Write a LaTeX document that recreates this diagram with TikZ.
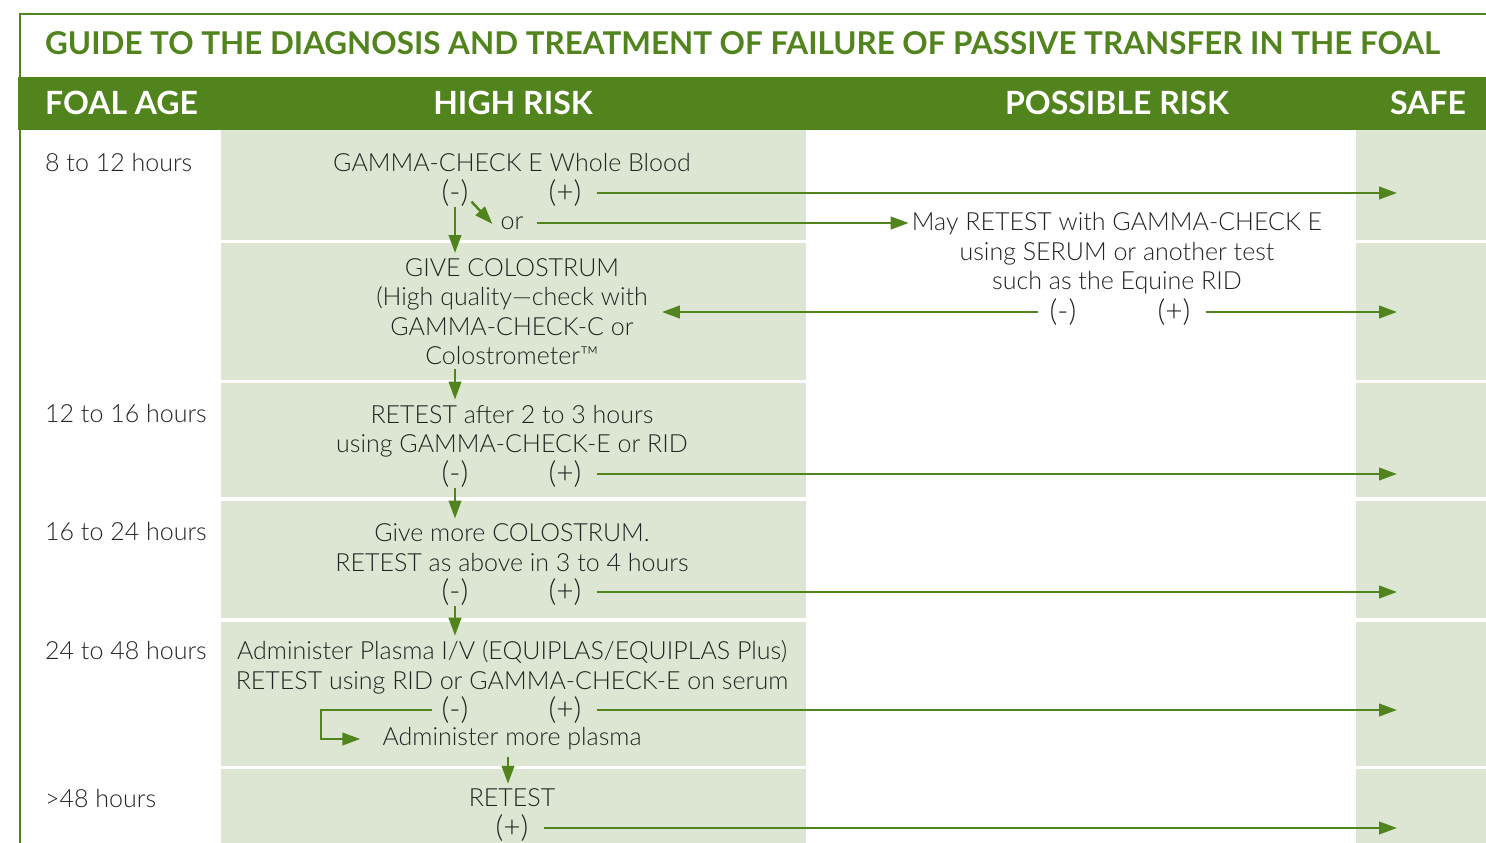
\documentclass[tikz,border=0pt]{standalone}
\usepackage{fontspec}
\setmainfont{Lato}[UprightFont=* Light,BoldFont=* Bold]
\usetikzlibrary{arrows.meta}
\definecolor{leaf}{RGB}{82,132,30}
\definecolor{pale}{RGB}{221,230,210}
\definecolor{ink}{RGB}{35,35,35}
\tikzstyle{every node}=[inner sep=0pt,text=ink,font=\fontsize{25}{29.5}\selectfont]
\tikzstyle{head}=[text=white,font=\fontsize{32}{34}\selectfont\bfseries]
\tikzstyle{age}=[anchor=west]
\tikzstyle{sign}=[font=\fontsize{30}{30}\selectfont]
\tikzstyle{arr}=[draw=leaf,line width=2.5pt,-{Triangle[length=18pt,width=12.5pt]}]
\tikzstyle{plusline}=[arr,shorten <=15pt]

\begin{document}
\begin{tikzpicture}[x=1pt,y=-1pt]
\useasboundingbox (0,0) rectangle (1486,843);
\draw[leaf,line width=2.5pt] (1486,14) -- (20,14) -- (20,843);
\fill[leaf] (18,77) rectangle (1486,130);
\foreach \t/\b in {130/239.5,243/380,383/497,500.5/617.5,621.5/765.5,769/843}{
  \fill[pale] (221,\t) rectangle (806,\b);
  \fill[pale] (1356,\t) rectangle (1486,\b);
}
\node[anchor=west,text=leaf,font=\fontsize{31.4}{33}\selectfont\bfseries] (title) at (45,43)
  {GUIDE TO THE DIAGNOSIS AND TREATMENT OF FAILURE OF PASSIVE TRANSFER IN THE FOAL};
\node[head,anchor=west] (foal) at (45,103) {FOAL AGE};
\node[head] (high) at (513,103) {HIGH RISK};
\node[head] (possible) at (1117,103) {POSSIBLE RISK};
\node[head] (safe) at (1428,103) {SAFE};
\coordinate (goal) at (1397,0);

\node[age] (a1) at (45,163) {8 to 12 hours};
\node[age] (a2) at (45,414) {12 to 16 hours};
\node[age] (a3) at (45,532) {16 to 24 hours};
\node[age] (a4) at (45,650) {24 to 48 hours};
\node[age] (a5) at (45,798) {>48 hours};

\node (test) at (512,163) {GAMMA-CHECK E Whole Blood};
\node[sign] (m1) at (455,193) {(-)};
\node[sign] (p1) at (565,193) {(+)};
\node (or) at (512,223) {or};
\node[align=center] (colostrum) at (512,311.5) {GIVE COLOSTRUM\\(High quality---check with\\GAMMA-CHECK-C or\\Colostrometer™};
\node[align=center] (retest1) at (512,431) {RETEST after 2 to 3 hours\\using GAMMA-CHECK-E or RID};
\node[sign] (m2) at (455,474) {(-)};
\node[sign] (p2) at (565,474) {(+)};
\node[align=center] (more) at (512,547.5) {Give more COLOSTRUM.\\RETEST as above in 3 to 4 hours};
\node[sign] (m3) at (455,592) {(-)};
\node[sign] (p3) at (565,592) {(+)};
\node[align=center] (plasma) at (512,667.5) {Administer Plasma I/V (EQUIPLAS/EQUIPLAS Plus)\\RETEST using RID or GAMMA-CHECK-E on serum};
\node[sign] (m4) at (455,710) {(-)};
\node[sign] (p4) at (565,710) {(+)};
\node (again) at (512,739) {Administer more plasma};
\node (retest2) at (512,798) {RETEST};
\node[sign] (p5) at (512,828) {(+)};

\node[align=center] (may) at (1117,253.5) {May RETEST with GAMMA-CHECK E\\using SERUM or another test\\such as the Equine RID};
\node[sign] (m6) at (1063,312) {(-)};
\node[sign] (p6) at (1174,312) {(+)};

\draw[plusline] (p1) -- (p1 -| goal);
\draw[plusline] (p2) -- (p2 -| goal);
\draw[plusline] (p3) -- (p3 -| goal);
\draw[plusline] (p4) -- (p4 -| goal);
\draw[plusline] (p5) -- (p5 -| goal);
\draw[plusline] (p6) -- (p6 -| goal);
\draw[arr] ([xshift=3pt,yshift=5pt]m1.south east) -- ([xshift=-8pt,yshift=-1pt]or.west);
\draw[arr,shorten <=13pt,shorten >=3pt] (or) -- (or -| may.west);
\draw[arr,shorten <=12pt,shorten >=14pt] (m6) -- (m6 -| colostrum.east);
\draw[arr,shorten >=5pt] (m1.south) -- (m1.south |- colostrum.north);
\draw[arr,shorten <=4pt,shorten >=5pt] (colostrum.south -| m2) -- (retest1.north -| m2);
\draw[arr,shorten >=5pt] (m2.south) -- (m2.south |- more.north);
\draw[arr,shorten >=5pt] (m3.south) -- (m3.south |- plasma.north);
\coordinate (bend) at (321,710);
\draw[arr] ([xshift=-10pt]m4.west) -- (bend) |- ([xshift=-22pt]again.west);
\draw[arr,shorten <=6pt,shorten >=5pt] ([xshift=-4pt]again.south) -- ([xshift=-4pt]retest2.north);
\end{tikzpicture}
\end{document}
